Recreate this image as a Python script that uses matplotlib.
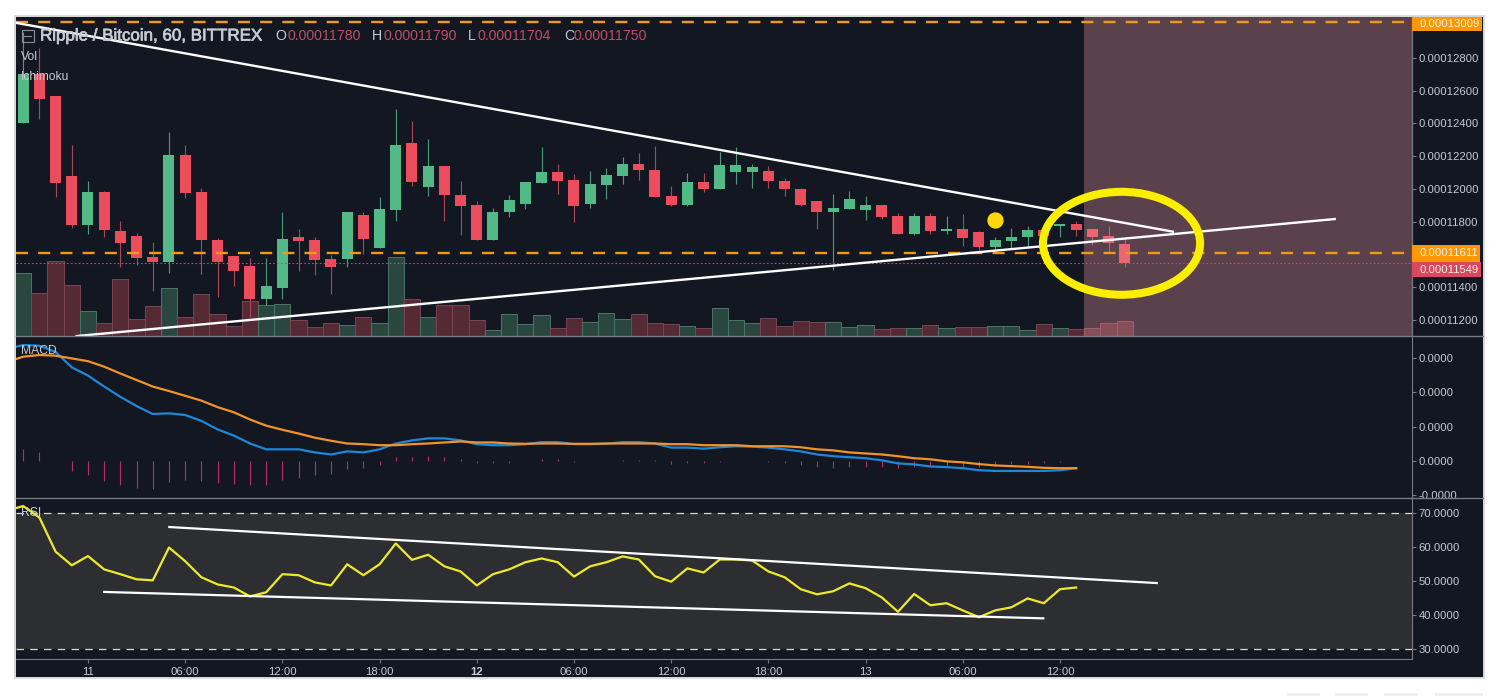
#Import Packages
import numpy as np
import matplotlib.pyplot as plt
import matplotlib.patheffects as pe
from matplotlib.lines import Line2D
from matplotlib.patches import Ellipse, Rectangle

plt.rcParams['font.family'] = ['Liberation Sans', 'DejaVu Sans']

# Prices are in units of 1e-8 BTC, one candle per hour
opens = [12404, 12700, 12564, 12076, 11781, 11979, 11741, 11710, 11582, 11552,
         12206, 11979, 11686, 11588, 11529, 11330, 11397, 11706, 11686, 11570,
         11574, 11840, 11641, 11871, 12277, 12013, 12137, 11960, 11899, 11690,
         11861, 11907, 12036, 12103, 12054, 11907, 12023, 12078, 12151, 12115,
         11956, 11901, 12042, 11999, 12103, 12103, 12109, 12048, 11999, 11926,
         11859, 11877, 11871, 11901, 11834, 11725, 11834, 11743, 11755, 11737,
         11645, 11682, 11706, 11749, 11773, 11785, 11755, 11712, 11663]
highs = [12959, 12857, 12564, 12267, 12048, 11985, 11806, 11729, 11678, 12347,
         12265, 12007, 11702, 11588, 11576, 11576, 11859, 11757, 11708, 11596,
         11857, 11861, 11952, 12487, 12414, 12306, 12137, 12050, 11924, 11881,
         11962, 12042, 12257, 12151, 12090, 12111, 12125, 12192, 12221, 12261,
         12019, 12097, 12097, 12227, 12253, 12151, 12139, 12066, 12005, 11926,
         11968, 11989, 11956, 11901, 11855, 11851, 11851, 11834, 11846, 11743,
         11706, 11761, 11773, 11769, 11785, 11804, 11755, 11773, 11704]
lows = [12404, 12426, 11952, 11763, 11727, 11708, 11525, 11535, 11377, 11485,
        11946, 11481, 11338, 11407, 11216, 11291, 11328, 11497, 11474, 11357,
        11521, 11600, 11641, 11802, 12019, 11958, 11802, 11716, 11690, 11690,
        11830, 11875, 12036, 11966, 11800, 11885, 11938, 12029, 12052, 11950,
        11897, 11897, 11981, 11999, 12029, 12005, 12005, 11954, 11895, 11753,
        11505, 11877, 11810, 11814, 11725, 11718, 11725, 11725, 11651, 11617,
        11631, 11637, 11647, 11657, 11704, 11712, 11657, 11607, 11525]
closes = [12700, 12550, 12038, 11781, 11979, 11751, 11672, 11580, 11552, 12206,
          11977, 11690, 11554, 11501, 11330, 11405, 11692, 11684, 11568, 11525,
          11857, 11696, 11875, 12265, 12044, 12137, 11964, 11897, 11690, 11857,
          11932, 12042, 12103, 12048, 11895, 12029, 12084, 12151, 12115, 11950,
          11901, 12042, 11999, 12145, 12145, 12133, 12048, 11999, 11901, 11859,
          11883, 11938, 11901, 11828, 11725, 11834, 11743, 11755, 11700, 11645,
          11688, 11706, 11749, 11712, 11785, 11749, 11706, 11670, 11549]
volumes = [188, 128, 224, 153, 74, 39, 170, 50, 89, 143,
           57, 125, 66, 30, 104, 93, 95, 47, 27, 39,
           32, 57, 39, 236, 111, 57, 93, 93, 47, 18,
           65, 35, 62, 23, 53, 41, 68, 51, 65, 38,
           35, 29, 23, 83, 47, 38, 53, 29, 44, 41,
           41, 26, 32, 20, 23, 23, 32, 23, 26, 26,
           29, 30, 18, 36, 24, 21, 24, 39, 45]

# MACD in units of 1e-6, first value belongs to the bar just off the left edge
macd_line = [3.27, 3.38, 3.36, 3.18, 2.73, 2.49, 2.17, 1.87, 1.60, 1.37, 1.39,
             1.34, 1.17, 0.92, 0.74, 0.51, 0.34, 0.34, 0.34, 0.25, 0.19,
             0.28, 0.25, 0.34, 0.51, 0.60, 0.66, 0.66, 0.60, 0.49, 0.46,
             0.46, 0.49, 0.55, 0.55, 0.49, 0.49, 0.50, 0.55, 0.55, 0.51,
             0.39, 0.39, 0.36, 0.40, 0.43, 0.42, 0.39, 0.34, 0.28, 0.19,
             0.14, 0.11, 0.08, 0.02, -0.07, -0.10, -0.16, -0.18, -0.21, -0.27,
             -0.29, -0.29, -0.29, -0.29, -0.27, -0.21]
signal_line = [2.89, 3.04, 3.09, 3.07, 2.99, 2.91, 2.75, 2.55, 2.36, 2.17, 2.04,
               1.90, 1.76, 1.57, 1.42, 1.21, 1.03, 0.91, 0.80, 0.68, 0.59,
               0.51, 0.49, 0.46, 0.46, 0.49, 0.51, 0.54, 0.57, 0.54, 0.54,
               0.51, 0.50, 0.51, 0.51, 0.50, 0.50, 0.51, 0.51, 0.51, 0.51,
               0.49, 0.49, 0.46, 0.46, 0.46, 0.43, 0.43, 0.43, 0.40, 0.34,
               0.31, 0.25, 0.22, 0.19, 0.14, 0.08, 0.05, -0.01, -0.04, -0.09,
               -0.13, -0.15, -0.17, -0.20, -0.21, -0.21]
macd_hist = [0.34, 0.25, 0.01, -0.29, -0.41, -0.58, -0.70, -0.78, -0.83, -0.61,
             -0.55, -0.58, -0.64, -0.67, -0.70, -0.70, -0.55, -0.49, -0.41, -0.38,
             -0.24, -0.21, -0.13, 0.11, 0.12, 0.15, 0.12, 0.06, -0.05, -0.06,
             -0.06, 0.0, 0.06, 0.06, -0.04, 0.0, 0.0, 0.03, 0.03, 0.03,
             -0.09, -0.06, -0.06, -0.03, 0.0, 0.0, -0.03, -0.06, -0.13, -0.18,
             -0.21, -0.18, -0.18, -0.18, -0.21, -0.18, -0.15, -0.17, -0.19, -0.17,
             -0.16, -0.10, -0.08, -0.06, -0.04, 0.0]

rsi_values = [70.6, 71.95, 68.6, 58.6, 54.6, 57.3, 53.4, 52.0, 50.5, 50.2, 59.8,
              55.8, 51.1, 49.0, 48.1, 45.5, 46.7, 52.0, 51.7, 49.6, 48.7,
              54.9, 51.7, 54.9, 61.0, 56.2, 57.7, 54.3, 52.8, 48.7, 52.0,
              53.4, 55.5, 56.6, 55.5, 51.3, 54.3, 55.5, 57.2, 56.3, 51.4,
              49.8, 53.7, 52.5, 56.3, 56.3, 56.0, 52.8, 51.1, 47.6, 46.1,
              47.0, 49.3, 47.9, 45.2, 41.0, 46.2, 42.9, 43.5, 41.4, 39.4,
              41.4, 42.3, 44.9, 43.5, 47.6, 48.1]

# Hand drawn lines: (bar, value) at both ends
main_upper = ([-0.44, 70.97], [13013, 11739])
main_lower = ([3.30, 80.96], [11102, 11816])
rsi_upper = ([9.02, 69.97], [65.8, 49.4])
rsi_lower = ([5.0, 62.97], [46.8, 39.07])

price_ticks = [11200, 11400, 11600, 11800, 12000, 12200, 12400, 12600, 12800]
price_tick_labels = ['0.00011200', '0.00011400', '', '0.00011800', '0.00012000',
                     '0.00012200', '0.00012400', '0.00012600', '0.00012800']
macd_ticks = [-1, 0, 1, 2, 3]
macd_tick_labels = ['-0.0000', '0.0000', '0.0000', '0.0000', '0.0000']
rsi_ticks = [30, 40, 50, 60, 70]
rsi_tick_labels = ['30.0000', '40.0000', '50.0000', '60.0000', '70.0000']
time_ticks = [4, 10, 16, 22, 28, 34, 40, 46, 52, 58, 64]
time_tick_labels = ['11', '06:00', '12:00', '18:00', '12', '06:00', '12:00',
                    '18:00', '13', '06:00', '12:00']

top_level = 13017  # line sits a touch above its tag value in the screenshot
support_level = 11611
last_price = 11549

BG = '#131722'
GREEN = '#53b987'
RED = '#eb4d5c'
ORANGE = '#f29a13'
GRID = '#787b84'
TEXT = '#c8cbd1'
W, H = 1498, 696
L_PX, R_PX = 16, 1412


def add_panel(top, bottom, zorder):
    # panel rectangle given in picture pixels
    ax = fig.add_axes([L_PX / W, 1 - bottom / H, (R_PX - L_PX) / W, (bottom - top) / H],
                      zorder=zorder)
    ax.set_xlim(-0.444, 85.73)
    for side in ['top', 'left', 'bottom']:
        ax.spines[side].set_visible(False)
    ax.spines['right'].set_color(GRID)
    ax.yaxis.tick_right()
    ax.tick_params(axis='y', colors=GRID, labelcolor=TEXT, length=3, width=0.8,
                   pad=1.8, labelsize=8.1)
    ax.tick_params(axis='x', bottom=False, labelbottom=False)
    return ax


def label(x, y, s, color=TEXT, size=8.7, stroke=0.0, **kw):
    t = fig.text(x / W, 1 - y / H, s, color=color, fontsize=size, va='center', zorder=20, **kw)
    if stroke:
        # the screenshot text is a little heavier than the regular weight
        t.set_path_effects([pe.withStroke(linewidth=stroke, foreground=color)])


def price_box(ax, value, text, color, width, height=92, shift=0):
    # coloured price tag on the axis
    ax.add_patch(Rectangle((1.0, value + shift - height / 2), width, height, facecolor=color,
                           edgecolor='none', transform=ax.get_yaxis_transform(),
                           clip_on=False, zorder=9))
    ax.text(1 + 7 / (R_PX - L_PX), value + shift, text, color='#f4f0ea', fontsize=8.1,
            va='center', transform=ax.get_yaxis_transform(), clip_on=False, zorder=10)


fig = plt.figure(figsize=(W / 100, H / 100), dpi=100, facecolor='white')

# Dark chart frame and the controls peeking out below it
frame = fig.add_axes([0, 0, 1, 1], zorder=0)
frame.set_xlim(0, W)
frame.set_ylim(H, 0)
frame.axis('off')
frame.add_patch(Rectangle((15, 15.5), 1468.5, 662, facecolor=BG, edgecolor='#dcdcdc', lw=1.4))
for x0, x1 in [(1287, 1320), (1335, 1368), (1384, 1418), (1435, 1483)]:
    frame.add_patch(Rectangle((x0, 693), x1 - x0, 4, facecolor='#efefef', edgecolor='none'))

bars = np.arange(len(opens))
line_bars = np.arange(-1, len(macd_line) - 1)
opens_arr, closes_arr = np.array(opens), np.array(closes)
up = closes_arr >= opens_arr

# Volume sits under the candles on its own scale
ax_vol = add_panel(17, 336, 1)
ax_vol.set_facecolor(BG)
ax_vol.set_ylim(0, 957)
ax_vol.set_yticks([])
ax_vol.bar(bars, volumes, width=1.0,
           color=np.where(up, '#29463f', '#552a35'),
           edgecolor=np.where(up, '#4d7568', '#7a4454'), linewidth=0.7)

ax = add_panel(17, 336, 2)
ax.patch.set_alpha(0)
ax.set_ylim(11102.4, 13048.7)
ax.set_yticks(price_ticks, price_tick_labels)
ax.vlines(bars, lows, highs, color=np.where(up, '#4f9a7d', '#a94a5a'), lw=0.8, zorder=2)
ax.bar(bars, closes_arr - opens_arr, bottom=opens_arr, width=0.68,
       color=np.where(up, GREEN, RED), zorder=3)

# Highlight of the current time window
ax.axvspan(65.5, 85.73, facecolor=(240 / 255, 153 / 255, 161 / 255), alpha=0.33,
           edgecolor='none', zorder=4)

for level in [top_level, support_level]:
    ax.axhline(level, color=ORANGE, lw=1.7, ls=(0, (5.1, 4.3)), zorder=5)
ax.axhline(last_price, color='#c8447a', lw=0.8, ls=(0, (1.5, 2)), zorder=5)
ax.plot(main_upper[0], main_upper[1], color='white', lw=1.7, zorder=6)
ax.plot(main_lower[0], main_lower[1], color='white', lw=1.7, zorder=6)
ax.scatter([60], [11810], s=115, color='#ffd80a', zorder=7)
ax.add_patch(Ellipse((67.8, 11668), 9.7, 628, fill=False, edgecolor='#fbee00', lw=5.8, zorder=8))

price_box(ax, 13009, '0.00013009', '#ff9800', 70 / 1396, height=88, shift=-2)
price_box(ax, support_level, '0.00011611', '#ff9800', 68 / 1396, height=100, shift=-5)
price_box(ax, last_price, '0.00011549', '#d9485f', 69 / 1396, height=90, shift=-41)

# MACD
ax_macd = add_panel(337, 497, 2)
ax_macd.set_facecolor(BG)
ax_macd.set_ylim(-1.05, 3.615)
ax_macd.set_yticks(macd_ticks, macd_tick_labels)
ax_macd.vlines(line_bars[1:], 0, macd_hist, color='#b72d68', lw=0.8)
ax_macd.plot(line_bars, macd_line, color='#1e88d8', lw=1.6)
ax_macd.plot(line_bars, signal_line, color='#f0932b', lw=1.6)

# RSI
ax_rsi = add_panel(498, 659, 2)
ax_rsi.set_facecolor(BG)
ax_rsi.set_ylim(27.17, 74.3)
ax_rsi.set_yticks(rsi_ticks, rsi_tick_labels)
ax_rsi.axhspan(30, 70, facecolor='#2d2e32', edgecolor='none', zorder=0)
for level in [30, 70]:
    ax_rsi.axhline(level, color='#d8d8d8', lw=0.9, ls=(0, (6, 5)), zorder=1)
ax_rsi.plot(line_bars, rsi_values, color='#efe92c', lw=1.6, zorder=3)
ax_rsi.plot(rsi_upper[0], rsi_upper[1], color='white', lw=1.6, zorder=4)
ax_rsi.plot(rsi_lower[0], rsi_lower[1], color='white', lw=1.6, zorder=4)

ax_rsi.spines['bottom'].set_visible(True)
ax_rsi.spines['bottom'].set_color(GRID)
ax_rsi.set_xticks(time_ticks, time_tick_labels)
ax_rsi.tick_params(axis='x', bottom=True, labelbottom=True, colors=GRID, labelcolor=TEXT,
                   length=3, width=0.8, pad=2.5, labelsize=8.1)
ax_rsi.get_xticklabels()[4].set_fontweight('bold')

# Pane separators run through the price scale as well
for y in [336.5, 497.5]:
    fig.add_artist(Line2D([L_PX / W, 1483 / W], [1 - y / H, 1 - y / H], color=GRID, lw=1, zorder=15))

# Legend texts
fig.add_artist(Rectangle((21.5 / W, 1 - 42 / H), 12 / W, 11.5 / H, fill=False, edgecolor='#8a8d94',
                         lw=0.8, zorder=20))
fig.add_artist(Line2D([24 / W, 31 / W], [1 - 36 / H, 1 - 36 / H], color='#8a8d94', lw=0.8, zorder=20))
label(40, 36, 'Ripple / Bitcoin, 60, BITTREX', size=12.2, stroke=0.5)
ohlc_x = [(275, 287, 'O', '0.00011780'), (372, 383, 'H', '0.00011790'),
          (468, 477, 'L', '0.00011704'), (564, 574, 'C', '0.00011750')]
for x_key, x_val, key, val in ohlc_x:
    label(x_key, 36, key, size=10.2)
    label(x_val, 36, val, color='#c24d62', size=10.2)
label(21, 57, 'Vol')
label(21, 77, 'Ichimoku')
label(21, 351, 'MACD')
label(21, 513, 'RSI')

plt.savefig('out.png', dpi=100, facecolor=fig.get_facecolor())
